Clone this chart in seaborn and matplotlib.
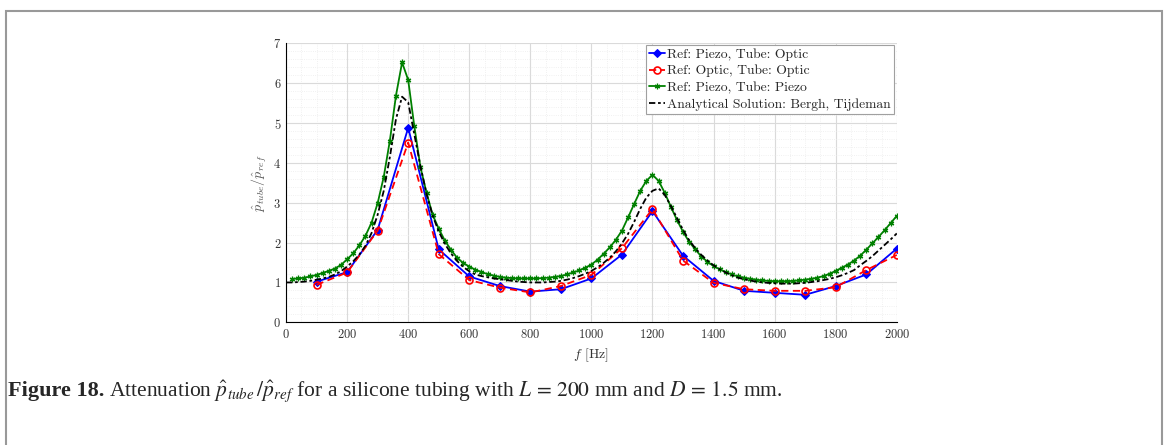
import numpy as np
import pandas as pd
import matplotlib.pyplot as plt
import seaborn as sns
from matplotlib.patches import Rectangle
from matplotlib.ticker import MultipleLocator

sns.set_style("whitegrid")
plt.rcParams["font.family"] = ["cmr10", "DejaVu Serif"]
plt.rcParams["mathtext.fontset"] = "cm"
plt.rcParams["axes.formatter.use_mathtext"] = True

# measured points, every 100 Hz
f_meas = [100, 200, 300, 400, 500, 600, 700, 800, 900, 1000,
          1100, 1200, 1300, 1400, 1500, 1600, 1700, 1800, 1900, 2000]
piezo_optic = [1.02, 1.26, 2.32, 4.88, 1.83, 1.15, 0.91, 0.77, 0.83, 1.10,
               1.70, 2.79, 1.67, 1.04, 0.79, 0.74, 0.69, 0.91, 1.20, 1.85]
optic_optic = [0.94, 1.25, 2.30, 4.51, 1.71, 1.06, 0.87, 0.75, 0.91, 1.19,
               1.86, 2.84, 1.55, 0.99, 0.83, 0.79, 0.79, 0.88, 1.31, 1.69]

# piezo / piezo, every 20 Hz
f_fine = list(range(20, 2001, 20))
piezo_piezo = [1.09, 1.10, 1.12, 1.15, 1.19, 1.24, 1.29, 1.35, 1.44, 1.58,
               1.73, 1.93, 2.17, 2.50, 2.99, 3.65, 4.56, 5.69, 6.52, 6.08,
               4.92, 3.90, 3.25, 2.70, 2.35, 2.05, 1.82, 1.62, 1.49, 1.40,
               1.32, 1.26, 1.21, 1.17, 1.14, 1.12, 1.11, 1.10, 1.10, 1.10,
               1.10, 1.11, 1.12, 1.14, 1.16, 1.20, 1.25, 1.30, 1.37, 1.45,
               1.57, 1.72, 1.88, 2.07, 2.30, 2.63, 2.97, 3.30, 3.55, 3.70,
               3.55, 3.25, 2.90, 2.57, 2.27, 2.02, 1.83, 1.65, 1.52, 1.41,
               1.33, 1.26, 1.20, 1.15, 1.12, 1.09, 1.07, 1.05, 1.04, 1.03,
               1.03, 1.03, 1.04, 1.05, 1.07, 1.09, 1.12, 1.16, 1.22, 1.29,
               1.37, 1.45, 1.55, 1.67, 1.82, 1.98, 2.14, 2.31, 2.49, 2.67]

# analytical solution, every 20 Hz from 0
f_ana = list(range(0, 2001, 20))
analytical = [1.00, 1.00, 1.01, 1.02, 1.04, 1.07, 1.10, 1.14, 1.20, 1.28,
              1.40, 1.53, 1.70, 1.92, 2.24, 2.70, 3.30, 4.15, 5.10, 5.66,
              5.52, 4.72, 3.92, 3.22, 2.68, 2.28, 1.97, 1.73, 1.54, 1.39,
              1.28, 1.20, 1.16, 1.13, 1.10, 1.08, 1.06, 1.04, 1.02, 1.01,
              1.00, 1.00, 1.00, 1.01, 1.02, 1.04, 1.07, 1.11, 1.16, 1.22,
              1.29, 1.38, 1.49, 1.62, 1.78, 1.98, 2.22, 2.52, 2.85, 3.13,
              3.30, 3.36, 3.20, 2.92, 2.62, 2.32, 2.06, 1.86, 1.69, 1.55,
              1.43, 1.33, 1.25, 1.18, 1.12, 1.08, 1.05, 1.02, 1.00, 0.99,
              0.98, 0.97, 0.97, 0.97, 0.98, 0.99, 1.01, 1.03, 1.06, 1.09,
              1.13, 1.18, 1.24, 1.31, 1.43, 1.54, 1.66, 1.80, 1.94, 2.08,
              2.23]

labels = ["Ref: Piezo, Tube: Optic", "Ref: Optic, Tube: Optic",
          "Ref: Piezo, Tube: Piezo", "Analytical Solution: Bergh, Tijdeman"]

fig = plt.figure(figsize=(11.68, 4.45), dpi=100)
ax = fig.add_axes([0.2449, 0.2757, 0.5229, 0.627])

sns.lineplot(x=f_meas, y=piezo_optic, ax=ax, color="#0000ff", lw=1.3,
             marker="D", markersize=4, markeredgecolor="#0000ff", label=labels[0])
sns.lineplot(x=f_meas, y=optic_optic, ax=ax, color="#ff0000", lw=1.3,
             linestyle=(0, (4, 2.5)), marker="o", markersize=5,
             markerfacecolor="none", markeredgecolor="#ff0000",
             markeredgewidth=1.2, label=labels[1])
sns.lineplot(x=f_fine, y=piezo_piezo, ax=ax, color="#008000", lw=1.3,
             marker=(6, 2, 0), markersize=4, markeredgecolor="#008000",
             markeredgewidth=0.9, label=labels[2])
sns.lineplot(x=f_ana, y=analytical, ax=ax, color="black", lw=1.3,
             linestyle=(0, (3.5, 1.5, 1.5, 1.5)), label=labels[3])

ax.set_xlim(0, 2000)
ax.set_ylim(0, 7)
ax.xaxis.set_major_locator(MultipleLocator(200))
ax.xaxis.set_minor_locator(MultipleLocator(50))
ax.yaxis.set_major_locator(MultipleLocator(1))
ax.yaxis.set_minor_locator(MultipleLocator(0.2))
ax.grid(which="major", color="#dadada", lw=0.8, ls="-")
ax.grid(which="minor", color="#ececec", lw=0.6, ls=":")
ax.set_axisbelow(True)
for s in ["top", "right"]:
    ax.spines[s].set_visible(False)
for s in ["left", "bottom"]:
    ax.spines[s].set_color("black")
    ax.spines[s].set_linewidth(0.8)
ax.tick_params(which="both", direction="in", colors="black",
               labelcolor="#333333", labelsize=9)
ax.tick_params(which="major", length=5, width=0.8)
ax.tick_params(which="minor", length=3, width=0.6)
ax.tick_params(axis="x", pad=4)

ax.set_xlabel(r"$f$ [Hz]", fontsize=10, color="#333333", labelpad=4)
ax.set_ylabel(r"$\hat{p}_{tube}/\hat{p}_{ref}$", fontsize=10,
              color="#555555", labelpad=3)

leg = ax.legend(loc="upper right", bbox_to_anchor=(0.995, 0.995),
                fontsize=9.8, frameon=True, fancybox=False, framealpha=1,
                edgecolor="#a0a0a0", borderpad=0.25, labelspacing=0.3,
                handlelength=1.2, handletextpad=0.1, borderaxespad=0)
leg.get_frame().set_linewidth(0.8)

# caption: bold label, then the rest placed right after it
cap_y = 1 - 391 / 445
t1 = fig.text(8 / 1168, cap_y, "Figure 18.", fontsize=16,
              family="Liberation Serif", weight="bold", va="center", ha="left")
fig.canvas.draw()
bb = t1.get_window_extent()
fig.text((bb.x1 + 5) / 1168, cap_y,
         r"Attenuation $\hat{p}_{tube}\,/\hat{p}_{ref}$ for a silicone tubing "
         r"with $L\,=\,200$ mm and $D\,=\,1.5$ mm.",
         fontsize=15.5, family="Liberation Serif", math_fontfamily="stix",
         va="center", ha="left")

fig.patches.append(Rectangle((6 / 1168, -0.1), 1156 / 1168, 1.1 - 11 / 445,
                             transform=fig.transFigure, fill=False,
                             edgecolor="#999999", lw=1.5, figure=fig))

fig.savefig("out.png", dpi=100)
